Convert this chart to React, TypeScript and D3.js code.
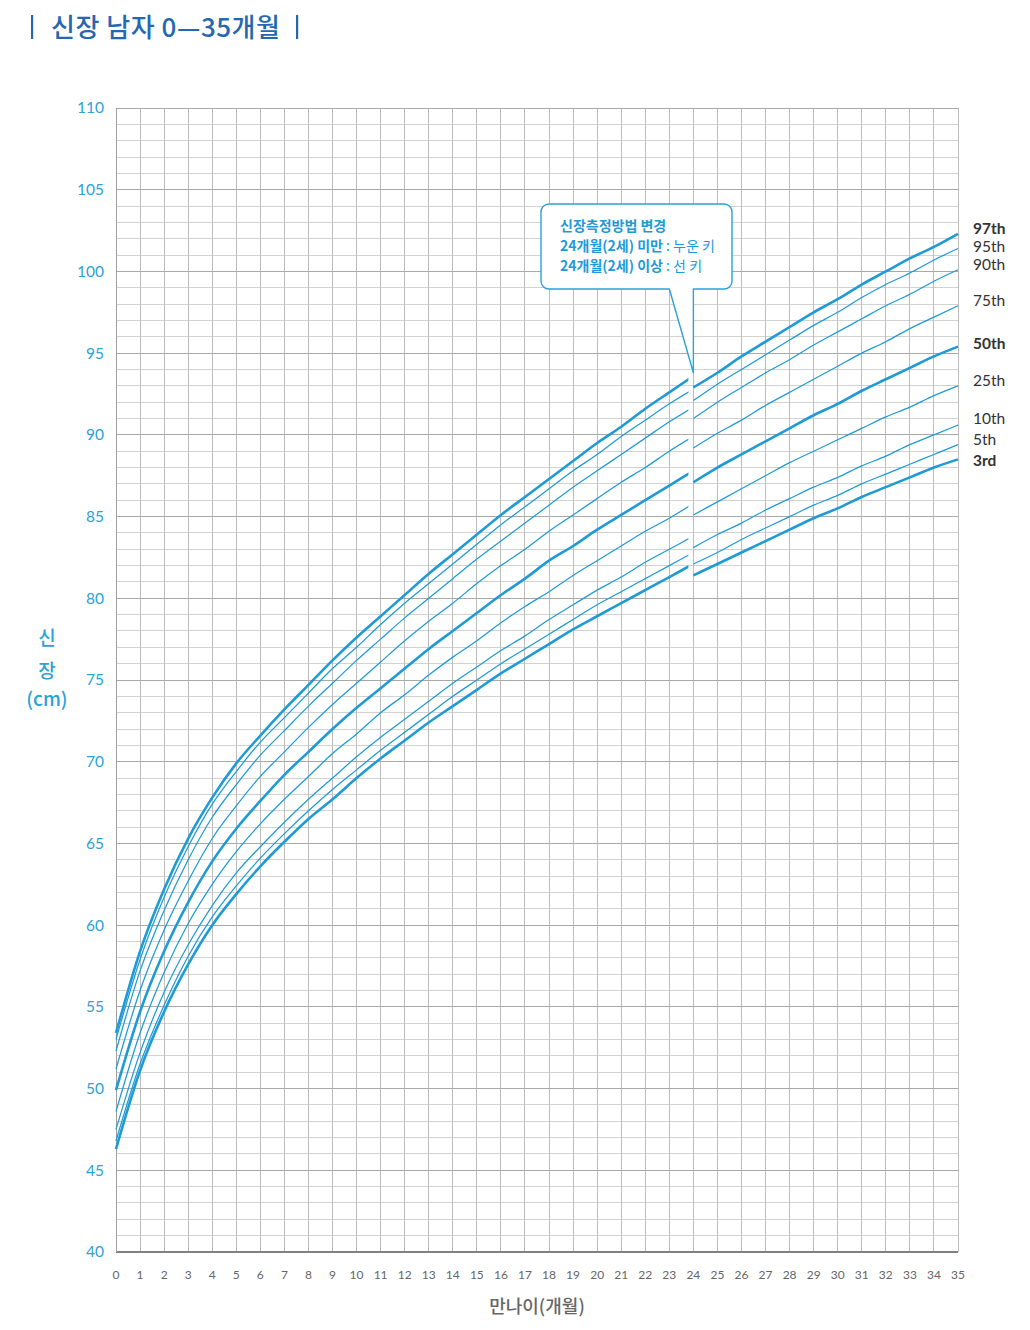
import React from "react";
import * as d3 from "d3";

// ---- data (WHO length/height-for-age, boys) ----
const percentiles = ["3rd", "5th", "10th", "25th", "50th", "75th", "90th", "95th", "97th"];
const boldPercentiles = ["3rd", "50th", "97th"];

const lyingMonths = [0, 1, 2, 3, 4, 5, 6, 7, 8, 9, 10, 11, 12, 13, 14, 15, 16, 17, 18, 19, 20, 21, 22, 23, 24];
const standingMonths = [24, 25, 26, 27, 28, 29, 30, 31, 32, 33, 34, 35];

// lying length 0-24 months
const lyingP3 = [46.3, 51.1, 54.7, 57.6, 60.0, 61.9, 63.6, 65.1, 66.5, 67.7, 69.0, 70.2, 71.3, 72.4, 73.4, 74.4, 75.4, 76.3, 77.2, 78.1, 78.9, 79.7, 80.5, 81.3, 82.1];
const lyingP5 = [46.8, 51.5, 55.1, 58.1, 60.5, 62.4, 64.1, 65.6, 67.0, 68.3, 69.5, 70.7, 71.8, 72.9, 74.0, 75.0, 76.0, 76.9, 77.8, 78.7, 79.6, 80.4, 81.2, 82.0, 82.8];
const lyingP10 = [47.5, 52.2, 55.9, 58.8, 61.2, 63.2, 64.8, 66.3, 67.7, 69.0, 70.3, 71.5, 72.6, 73.7, 74.8, 75.8, 76.8, 77.7, 78.7, 79.6, 80.5, 81.3, 82.2, 83.0, 83.8];
const lyingP25 = [48.6, 53.4, 57.1, 60.1, 62.5, 64.5, 66.2, 67.7, 69.1, 70.5, 71.7, 73.0, 74.1, 75.3, 76.4, 77.4, 78.5, 79.5, 80.4, 81.4, 82.3, 83.2, 84.1, 84.9, 85.8];
const lyingP50 = [49.9, 54.7, 58.4, 61.4, 63.9, 65.9, 67.6, 69.2, 70.6, 72.0, 73.3, 74.5, 75.7, 76.9, 78.0, 79.1, 80.2, 81.2, 82.3, 83.2, 84.2, 85.1, 86.0, 86.9, 87.8];
const lyingP75 = [51.2, 56.0, 59.7, 62.7, 65.3, 67.3, 69.1, 70.6, 72.1, 73.5, 74.8, 76.1, 77.4, 78.6, 79.7, 80.9, 82.0, 83.0, 84.1, 85.1, 86.1, 87.1, 88.0, 89.0, 89.9];
const lyingP90 = [52.3, 57.2, 60.9, 64.0, 66.6, 68.6, 70.4, 71.9, 73.4, 74.8, 76.2, 77.5, 78.8, 80.0, 81.2, 82.4, 83.5, 84.6, 85.7, 86.8, 87.8, 88.8, 89.8, 90.8, 91.7];
const lyingP95 = [53.0, 57.9, 61.7, 64.8, 67.4, 69.4, 71.2, 72.7, 74.2, 75.7, 77.0, 78.4, 79.7, 80.9, 82.1, 83.3, 84.5, 85.6, 86.7, 87.8, 88.8, 89.9, 90.9, 91.9, 92.8];
const lyingP97 = [53.4, 58.4, 62.2, 65.3, 67.8, 69.9, 71.6, 73.2, 74.7, 76.2, 77.6, 78.9, 80.2, 81.5, 82.7, 83.9, 85.1, 86.2, 87.3, 88.4, 89.5, 90.5, 91.6, 92.6, 93.6];

// standing height 24-35 months
const standP3 = [81.4, 82.1, 82.8, 83.5, 84.2, 84.9, 85.5, 86.2, 86.8, 87.4, 88.0, 88.5];
const standP5 = [82.1, 82.8, 83.6, 84.3, 85.0, 85.7, 86.3, 87.0, 87.6, 88.2, 88.8, 89.4];
const standP10 = [83.1, 83.9, 84.6, 85.4, 86.1, 86.8, 87.4, 88.1, 88.7, 89.4, 90.0, 90.6];
const standP25 = [85.1, 85.9, 86.7, 87.5, 88.3, 89.0, 89.7, 90.4, 91.1, 91.7, 92.4, 93.0];
const standP50 = [87.1, 88.0, 88.8, 89.6, 90.4, 91.2, 91.9, 92.7, 93.4, 94.1, 94.8, 95.4];
const standP75 = [89.2, 90.1, 90.9, 91.8, 92.6, 93.4, 94.2, 95.0, 95.7, 96.5, 97.2, 97.9];
const standP90 = [91.0, 92.0, 92.9, 93.8, 94.6, 95.5, 96.3, 97.1, 97.9, 98.6, 99.4, 100.1];
const standP95 = [92.1, 93.1, 94.0, 94.9, 95.8, 96.7, 97.5, 98.4, 99.2, 99.9, 100.7, 101.4];
const standP97 = [92.9, 93.8, 94.8, 95.7, 96.6, 97.5, 98.3, 99.2, 100.0, 100.8, 101.5, 102.3];

const lyingSeries = [lyingP3, lyingP5, lyingP10, lyingP25, lyingP50, lyingP75, lyingP90, lyingP95, lyingP97];
const standingSeries = [standP3, standP5, standP10, standP25, standP50, standP75, standP90, standP95, standP97];

// label vertical positions (cm) at right edge
const labelValues = [88.4, 89.7, 91.0, 93.3, 95.6, 98.2, 100.4, 101.55, 102.65];

const xTicks = d3.range(0, 36);
const yMajorTicks = [40, 45, 50, 55, 60, 65, 70, 75, 80, 85, 90, 95, 100, 105, 110];
const yMinorTicks = d3.range(40, 111);

const titleText = "신장 남자 0—35개월";
const xAxisTitle = "만나이(개월)";
const yAxisTitle = ["신", "장", "(cm)"];
const noteTitle = "신장측정방법 변경";
const noteLines = [
  { bold: "24개월(2세) 미만", rest: " : 누운 키" },
  { bold: "24개월(2세) 이상", rest: " : 선 키" },
];

const BLUE = "#1e9bd7";
const KFONT = "'Noto Sans CJK KR', 'Noto Sans', sans-serif";
const NFONT = "Lato, 'Noto Sans', sans-serif";

export default function App() {
  const W = 1030, H = 1330;
  const left = 116, right = 958, top = 108, bottom = 1252;
  const x = d3.scaleLinear().domain([0, 35]).range([left, right]);
  const y = d3.scaleLinear().domain([40, 110]).range([bottom, top]);

  const line = d3
    .line<[number, number]>()
    .x((d) => x(d[0]))
    .y((d) => y(d[1]))
    .curve(d3.curveMonotoneX);

  const x24 = x(24);
  const bx0 = 541, bx1 = 732, by0 = 204, by1 = 289, r = 8;
  const apexY = y(93.8);
  const calloutPath = [
    `M${bx0 + r},${by0}`,
    `L${bx1 - r},${by0}`,
    `A${r},${r} 0 0 1 ${bx1},${by0 + r}`,
    `L${bx1},${by1 - r}`,
    `A${r},${r} 0 0 1 ${bx1 - r},${by1}`,
    `L${x24},${by1}`,
    `L${x24},${apexY}`,
    `L${x24 - 24},${by1}`,
    `L${bx0 + r},${by1}`,
    `A${r},${r} 0 0 1 ${bx0},${by1 - r}`,
    `L${bx0},${by0 + r}`,
    `A${r},${r} 0 0 1 ${bx0 + r},${by0}`,
    "Z",
  ].join(" ");

  return (
    <svg
      width={W}
      height={H}
      style={{ position: "absolute", left: 0, top: 0, background: "#fff" }}
    >
      <defs>
        <clipPath id="lyingClip">
          <rect x={0} y={0} width={x24 - 5} height={H} />
        </clipPath>
      </defs>
      <rect x={0} y={0} width={W} height={H} fill="#fff" />

      {/* title */}
      <g fill="#2468b0" fontFamily={KFONT}>
        <rect x={31} y={15} width={2.2} height={24} />
        <text x={51} y={37} fontSize={26} fontWeight={500} textLength={229} lengthAdjust="spacing">
          {titleText}
        </text>
        <rect x={296} y={15} width={2.2} height={24} />
      </g>

      {/* grid */}
      <g shapeRendering="crispEdges">
        {yMinorTicks
          .filter((v) => v % 5 !== 0)
          .map((v) => (
            <line key={"hm" + v} x1={left} x2={right} y1={y(v)} y2={y(v)} stroke="#d2d2d2" strokeWidth={1} />
          ))}
        {xTicks.map((m) => (
          <line key={"v" + m} x1={x(m)} x2={x(m)} y1={top} y2={bottom} stroke="#bdbdbd" strokeWidth={1} />
        ))}
        {yMajorTicks.map((v) => (
          <line key={"hM" + v} x1={left} x2={right} y1={y(v)} y2={y(v)} stroke="#a9a9a9" strokeWidth={1} />
        ))}
        <line x1={left} x2={right} y1={bottom} y2={bottom} stroke="#808080" strokeWidth={1.5} />
        <line x1={left} x2={left} y1={top} y2={bottom} stroke="#a0a0a0" strokeWidth={1} />
      </g>

      {/* y tick labels */}
      <g fill="#2aa3d6" fontFamily={NFONT} fontSize={15.5} textAnchor="end">
        {yMajorTicks.map((v) => (
          <text key={"yl" + v} x={104} y={y(v)} dy="0.35em">
            {v}
          </text>
        ))}
      </g>

      {/* x tick labels */}
      <g fill="#666" fontFamily={NFONT} fontSize={12} textAnchor="middle">
        {xTicks.map((m) => (
          <text key={"xl" + m} x={x(m)} y={1279}>
            {m}
          </text>
        ))}
      </g>

      {/* axis titles */}
      <text x={537} y={1313} textAnchor="middle" fill="#666" fontFamily={KFONT} fontSize={18} fontWeight={500}>
        {xAxisTitle}
      </text>
      <g fill="#2aa3d6" fontFamily={KFONT} fontSize={19} fontWeight={500} textAnchor="middle">
        <text x={47} y={645}>{yAxisTitle[0]}</text>
        <text x={47} y={678}>{yAxisTitle[1]}</text>
        <text x={47} y={706}>{yAxisTitle[2]}</text>
      </g>

      {/* percentile curves */}
      <g fill="none" stroke={BLUE} strokeLinejoin="round" strokeLinecap="butt">
        <g clipPath="url(#lyingClip)">
          {lyingSeries.map((vals, i) => {
            const pts = lyingMonths.map((m, j) => [m, vals[j]] as [number, number]);
            const bold = boldPercentiles.includes(percentiles[i]);
            return <path key={"ly" + i} d={line(pts) || ""} strokeWidth={bold ? 2.6 : 1.25} />;
          })}
        </g>
        {standingSeries.map((vals, i) => {
          const pts = standingMonths.map((m, j) => [m, vals[j]] as [number, number]);
          const bold = boldPercentiles.includes(percentiles[i]);
          return <path key={"st" + i} d={line(pts) || ""} strokeWidth={bold ? 2.6 : 1.25} />;
        })}
      </g>

      {/* percentile labels */}
      <g fill="#333" fontFamily={NFONT} fontSize={15.5}>
        {percentiles.map((p, i) => (
          <text
            key={"pl" + p}
            x={973}
            y={y(labelValues[i])}
            dy="0.35em"
            fontWeight={boldPercentiles.includes(p) ? 700 : 400}
          >
            {p}
          </text>
        ))}
      </g>

      {/* callout */}
      <path d={calloutPath} fill="#fff" stroke="#2aa3d6" strokeWidth={1.4} strokeLinejoin="round" />
      <g fill="#1e9bd7" fontFamily={KFONT} fontSize={14}>
        <text x={560} y={231} fontWeight={700}>
          {noteTitle}
        </text>
        {noteLines.map((l, i) => (
          <text key={"nl" + i} x={560} y={251 + i * 20}>
            <tspan fontWeight={700}>{l.bold}</tspan>
            <tspan fontWeight={400}>{l.rest}</tspan>
          </text>
        ))}
      </g>
    </svg>
  );
}
